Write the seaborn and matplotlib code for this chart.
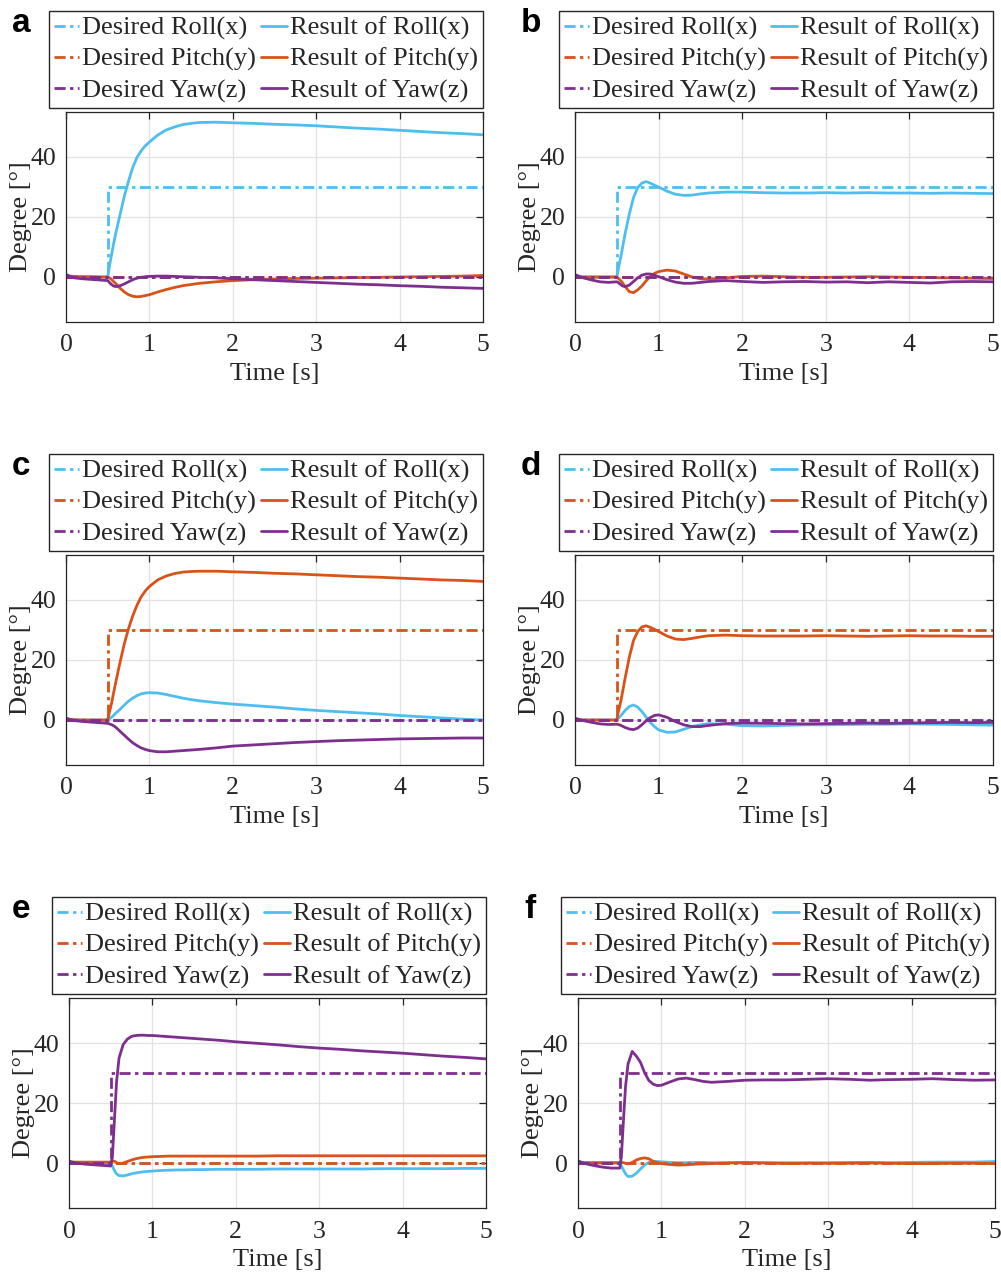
import matplotlib
matplotlib.use("Agg")
import matplotlib.pyplot as plt
import seaborn as sns

sns.set_theme(style="white")
plt.rcParams["font.family"] = ["Liberation Serif", "DejaVu Serif"]

# ---------------- data ----------------
TIME = [0, 0.1, 0.2, 0.3, 0.4, 0.5, 0.52, 0.55, 0.57, 0.6, 0.65, 0.7, 0.75, 0.8,
        0.85, 0.9, 0.95, 1.0, 1.1, 1.2, 1.3, 1.4, 1.5, 1.6, 1.8, 2.0, 2.25, 2.5,
        2.75, 3.0, 3.25, 3.5, 3.75, 4.0, 4.25, 4.5, 4.75, 5.0]

DES_TIME = [0, 0.5, 0.5, 5]
DES_STEP = [0, 0, 30, 30]
DES_ZERO = [0, 0, 0, 0]

# panel a: roll command
a_roll = [0, 0, 0, 0, 0, 0, 3.5, 8, 11, 15, 21, 27, 32, 36.5,
          39.8, 42, 43.7, 45, 47.3, 49, 50, 50.8, 51.2, 51.5, 51.6, 51.4, 51.2, 50.9,
          50.7, 50.4, 50.0, 49.6, 49.3, 48.9, 48.5, 48.1, 47.8, 47.4]
a_pitch = [0.3, 0.2, 0.1, 0.1, 0, 0, -0.3, -0.9, -1.5, -2.3, -3.8, -5.0, -5.9, -6.4,
           -6.6, -6.5, -6.2, -5.9, -5.0, -4.2, -3.5, -2.9, -2.5, -2.1, -1.6, -1.2, -0.9, -0.7,
           -0.5, -0.4, -0.3, -0.2, -0.1, 0, 0.1, 0.2, 0.3, 0.5]
a_yaw = [0.8, -0.3, -0.6, -0.8, -1.0, -1.2, -1.8, -2.6, -3.0, -3.2, -2.9, -2.3, -1.6, -0.9,
         -0.4, -0.1, 0.1, 0.2, 0.3, 0.3, 0.2, 0.1, 0, -0.1, -0.3, -0.6, -0.9, -1.2,
         -1.5, -1.8, -2.1, -2.4, -2.6, -2.9, -3.1, -3.4, -3.6, -3.8]

# panel b: roll command
b_roll = [0, 0, 0, 0, 0, 0, 3, 7, 10, 14.5, 21, 26.5, 29.8, 31.3,
          31.8, 31.3, 30.6, 30, 28.6, 27.6, 27.2, 27.3, 27.7, 28.0, 28.3, 28.3, 28.1, 28.0,
          28.0, 28.1, 28.0, 28.1, 28.0, 28.0, 27.9, 28.0, 27.9, 27.8]
b_pitch = [0, 0, 0, 0, 0, 0, -0.5, -1.3, -2.0, -3.2, -4.9, -5.2, -4.3, -3.0,
           -1.3, 0.2, 1.2, 1.8, 2.3, 2.0, 1.0, 0, -0.6, -0.7, -0.3, 0.2, 0.3, 0.1,
           -0.1, -0.1, 0, 0.1, 0, -0.1, -0.2, -0.3, -0.4, -0.5]
b_yaw = [0.8, -0.3, -1.0, -1.6, -1.8, -1.6, -1.9, -2.6, -3.0, -3.2, -2.7, -1.5, -0.3, 0.6,
         1.0, 1.0, 0.6, 0.1, -0.9, -1.7, -2.1, -2.1, -1.8, -1.5, -1.2, -1.5, -1.8, -1.6,
         -1.5, -1.7, -1.6, -1.9, -1.6, -1.8, -2.0, -1.6, -1.5, -1.6]

# panel c: pitch command
c_roll = [0, 0, 0, 0, 0, 0, 0.4, 1.0, 1.5, 2.4, 3.6, 5.0, 6.3, 7.3,
          8.1, 8.7, 9.0, 9.1, 9.0, 8.5, 7.9, 7.3, 6.8, 6.4, 5.8, 5.3, 4.8, 4.3,
          3.7, 3.2, 2.8, 2.4, 2.0, 1.5, 1.1, 0.7, 0.3, 0]
c_pitch = [0.3, 0.1, 0, 0, 0, 0, 2.5, 6, 9, 13, 19.5, 25.5, 30.5, 34.7,
           38.2, 41, 43, 44.5, 46.7, 48, 48.8, 49.3, 49.5, 49.6, 49.6, 49.4, 49.2, 48.9,
           48.7, 48.4, 48.1, 47.8, 47.6, 47.3, 47.0, 46.7, 46.5, 46.2]
c_yaw = [0.6, -0.2, -0.5, -0.7, -0.9, -1.1, -1.3, -1.6, -1.9, -2.5, -3.8, -5.1, -6.4, -7.6,
         -8.5, -9.3, -9.8, -10.2, -10.6, -10.6, -10.4, -10.2, -10.0, -9.8, -9.3, -8.7, -8.3, -7.9,
         -7.5, -7.2, -6.9, -6.7, -6.5, -6.3, -6.2, -6.1, -6.0, -6.0]

# panel d: pitch command
d_roll = [0, 0, 0, 0, 0, 0, 0.6, 1.5, 2.2, 3.2, 4.5, 5.0, 4.3, 2.8,
          1.0, -0.8, -2.2, -3.3, -4.1, -4.0, -3.1, -2.2, -1.6, -1.2, -1.4, -1.9, -2.0, -1.8,
          -1.6, -1.6, -1.5, -1.4, -1.4, -1.3, -1.4, -1.5, -1.6, -1.7]
d_pitch = [0, 0, 0, 0, 0, 0, 3, 6.5, 9.5, 14, 21, 26.5, 29.5, 31.0,
           31.4, 30.9, 30.2, 29.5, 28.0, 27.0, 26.8, 27.2, 27.7, 28.1, 28.3, 28.1, 28.0, 28.0,
           28.0, 28.1, 28.0, 27.9, 28.0, 28.1, 28.0, 28.0, 27.9, 27.9]
d_yaw = [0.6, -0.2, -0.8, -1.3, -1.5, -1.4, -1.5, -1.8, -2.1, -2.5, -3.0, -3.2, -2.7, -1.6,
         -0.3, 0.8, 1.5, 1.7, 0.9, -0.5, -1.6, -2.2, -2.2, -1.8, -1.2, -1.0, -1.1, -1.2,
         -1.3, -1.2, -1.1, -1.0, -1.1, -1.0, -0.9, -0.8, -0.9, -0.8]

# panel e: yaw command
e_roll = [0, -0.1, -0.1, -0.2, -0.2, -0.2, -1.0, -2.8, -3.6, -4.2, -4.3, -4.0, -3.6, -3.3,
          -3.1, -2.9, -2.8, -2.7, -2.5, -2.4, -2.3, -2.3, -2.2, -2.2, -2.1, -2.1, -2.1, -2.0,
          -2.0, -2.0, -2.0, -2.0, -1.9, -1.9, -1.9, -1.9, -1.8, -1.8]
e_pitch = [0.3, 0.3, 0.3, 0.3, 0.3, 0.3, 0.7, 0.5, 0.1, -0.2, 0, 0.5, 1.0, 1.4,
           1.7, 1.9, 2.0, 2.1, 2.2, 2.3, 2.3, 2.3, 2.3, 2.3, 2.3, 2.3, 2.3, 2.4,
           2.4, 2.4, 2.4, 2.4, 2.4, 2.4, 2.4, 2.4, 2.4, 2.4]
e_yaw = [0.6, -0.1, -0.4, -0.6, -0.8, -1.0, 2.0, 17, 27, 35, 39.5, 41.3, 42.2, 42.5,
         42.6, 42.6, 42.5, 42.5, 42.3, 42.1, 41.9, 41.7, 41.5, 41.3, 40.9, 40.4, 39.9, 39.4,
         38.8, 38.3, 37.9, 37.4, 37.0, 36.6, 36.1, 35.6, 35.2, 34.7]

# panel f: yaw command
f_roll = [0.2, 0.2, 0.2, 0.2, 0.2, 0.2, -1.0, -2.6, -3.6, -4.5, -4.4, -3.4, -2.0, -0.6,
          0.2, 0.5, 0.5, 0.4, 0.2, 0.1, 0.1, 0.2, 0.2, 0.1, 0.1, 0.2, 0.1, 0.1,
          0.1, 0.1, 0.2, 0.2, 0.1, 0.2, 0.3, 0.3, 0.3, 0.5]
f_pitch = [0, 0, 0, 0, 0, 0, 0.2, 0.1, -0.1, -0.3, 0.2, 1.0, 1.5, 1.7,
           1.4, 0.6, 0.1, -0.2, -0.5, -0.7, -0.6, -0.4, -0.3, -0.2, 0, 0.1, 0.0, -0.2,
           -0.1, -0.1, -0.1, 0, -0.1, -0.2, -0.2, -0.1, -0.1, -0.2]
f_yaw = [0.7, -0.3, -0.9, -1.4, -1.7, -1.7, 2.0, 16.6, 25.5, 33, 37.2, 35.6, 33.5, 30,
         27.5, 26.3, 25.8, 25.9, 27.0, 28.0, 28.3, 27.8, 27.2, 26.9, 27.2, 27.6, 27.7, 27.7,
         27.9, 28.1, 27.9, 27.6, 27.8, 27.9, 28.1, 27.8, 27.6, 27.7]

PANEL_LABELS = ["a", "b", "c", "d", "e", "f"]
COMMAND_AXIS = ["roll", "roll", "pitch", "pitch", "yaw", "yaw"]
RESULTS = [(a_roll, a_pitch, a_yaw), (b_roll, b_pitch, b_yaw), (c_roll, c_pitch, c_yaw),
           (d_roll, d_pitch, d_yaw), (e_roll, e_pitch, e_yaw), (f_roll, f_pitch, f_yaw)]

DES_LABELS = ["Desired Roll(x)", "Desired Pitch(y)", "Desired Yaw(z)"]
RES_LABELS = ["Result of Roll(x)", "Result of Pitch(y)", "Result of Yaw(z)"]
COLORS = ["#4DBEEE", "#D95319", "#7E2F8E"]
AXES_NAMES = ["roll", "pitch", "yaw"]

# ---------------- layout (pixels) ----------------
W, H = 1001, 1276
RECTS = [(66, 112, 483, 322), (575, 112, 993, 322),
         (66, 555, 483, 765), (575, 555, 993, 765),
         (69, 998, 486, 1208), (578, 998, 995, 1208)]
LABEL_X = [12, 521, 12, 521, 12, 524]

fig = plt.figure(figsize=(W / 100, H / 100), dpi=100)
DASHDOT = (0, (4, 1.6, 1.2, 1.6))
INK = "#262626"
LW = 2.0

for i, (l, t, r, b) in enumerate(RECTS):
    ax = fig.add_axes([l / W, 1 - b / H, (r - l) / W, (b - t) / H])
    for k in range(3):
        des = DES_STEP if AXES_NAMES[k] == COMMAND_AXIS[i] else DES_ZERO
        sns.lineplot(x=DES_TIME, y=des, ax=ax, color=COLORS[k], lw=LW,
                     linestyle=DASHDOT, estimator=None, sort=False,
                     label=DES_LABELS[k])
        sns.lineplot(x=TIME, y=RESULTS[i][k], ax=ax, color=COLORS[k], lw=LW,
                     estimator=None, sort=False, label=RES_LABELS[k])
    lines = ax.get_lines()
    order = [0, 2, 4, 1, 3, 5]
    hs = [lines[j] for j in order]
    ls = [lines[j].get_label() for j in order]
    ax.legend(hs, ls, ncol=2, loc="upper right",
              bbox_to_anchor=(r / W, 1 - (t - 101) / H), bbox_transform=fig.transFigure,
              borderaxespad=0, fontsize=19, frameon=True, fancybox=False,
              edgecolor=INK, framealpha=1, handlelength=0.95, handletextpad=0.12,
              columnspacing=0.2, labelspacing=0.28, borderpad=0.2)
    ax.get_legend().get_frame().set_linewidth(1.0)

    ax.set_xlim(0, 5)
    ax.set_ylim(-15, 55)
    ax.set_xticks([0, 1, 2, 3, 4, 5])
    ax.set_yticks([0, 20, 40])
    ax.grid(True, color="#E2E2E2", lw=0.9)
    ax.set_axisbelow(True)
    ax.tick_params(axis="x", pad=9)
    ax.tick_params(axis="y", pad=7)
    ax.tick_params(direction="in", length=5, width=0.9, top=True, right=True,
                   labelsize=18.5, colors=INK, labelcolor=INK)
    for sp in ax.spines.values():
        sp.set_color(INK)
        sp.set_linewidth(0.9)
    ax.set_xlabel("Time [s]", fontsize=19, color=INK, labelpad=5)
    ax.set_ylabel("Degree [°]", fontsize=19, color=INK, labelpad=-1)

    fig.text(LABEL_X[i] / W, 1 - (t - 80) / H, PANEL_LABELS[i], fontsize=24,
             fontweight="bold", family=["Liberation Sans", "DejaVu Sans"],
             color="black", va="baseline", ha="left")

fig.savefig("out.png", dpi=100)
